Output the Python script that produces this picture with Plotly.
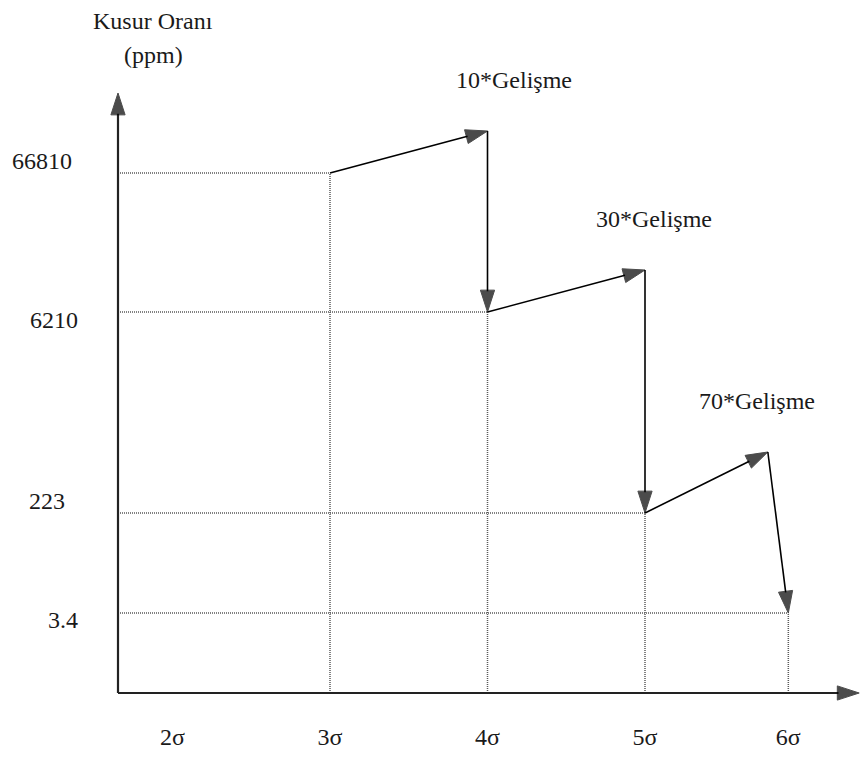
import plotly.graph_objects as go

# ---- data (schematic chart) ----
sigma_labels = ["2σ", "3σ", "4σ", "5σ", "6σ"]
sigma_pos = [2, 3, 4, 5, 5.91]            # horizontal position of each sigma level

ppm_labels = ["66810", "6210", "223", "3.4"]   # defect rate (ppm) at 3σ..6σ
ppm_pos = [5.20, 3.81, 1.80, 0.80]            # schematic vertical position of each level

gain_labels = ["10*Gelişme", "30*Gelişme", "70*Gelişme"]
peak_x = [4.0, 5.0, 5.78]
peak_y = [5.62, 4.23, 2.41]

FONT = "Liberation Serif"
FS = 24
TXT = "#1a1a1a"

# axis geometry (layout)
x0 = 1.654       # origin of drawn axes
x_end = 6.36
y_end = 6.0

fig = go.Figure()

# dotted guide lines
lvl_sigma = sigma_pos[1:]
for sx, py in zip(lvl_sigma, ppm_pos):
    fig.add_trace(go.Scatter(x=[x0, sx], y=[py, py], mode="lines",
                             line=dict(color="#5a5a5a", width=1.5, dash="1px,1px"),
                             hoverinfo="skip"))
    fig.add_trace(go.Scatter(x=[sx, sx], y=[0, py], mode="lines",
                             line=dict(color="#5a5a5a", width=1.5, dash="1px,1px"),
                             hoverinfo="skip"))

# improvement path with arrowheads
px = [lvl_sigma[0]]
py_ = [ppm_pos[0]]
for i in range(3):
    px += [peak_x[i], lvl_sigma[i + 1]]
    py_ += [peak_y[i], ppm_pos[i + 1]]
sizes = [0] + [23] * (len(px) - 1)
fig.add_trace(go.Scatter(x=px, y=py_, mode="lines+markers",
                         line=dict(color="#000000", width=1.6),
                         marker=dict(symbol="arrow", angleref="previous", size=sizes,
                                     color="#000000", line=dict(width=1, color="#000000")),
                         cliponaxis=False, hoverinfo="skip"))

# axes with arrowheads
fig.add_trace(go.Scatter(x=[x0, x_end], y=[0, 0], mode="lines+markers",
                         line=dict(color="#222222", width=2.2),
                         marker=dict(symbol="arrow", angleref="previous", size=[0, 23],
                                     color="#000000", line=dict(width=1, color="#000000")),
                         cliponaxis=False, hoverinfo="skip"))
fig.add_trace(go.Scatter(x=[x0, x0], y=[0, y_end], mode="lines+markers",
                         line=dict(color="#222222", width=2.2),
                         marker=dict(symbol="arrow", angleref="previous", size=[0, 23],
                                     color="#000000", line=dict(width=1, color="#000000")),
                         cliponaxis=False, hoverinfo="skip"))

# y level labels
lab_cx = [42, 54, 47, 63]
lab_shift = [12, -8, 12, -7]
for t, py, cx, sh in zip(ppm_labels, ppm_pos, lab_cx, lab_shift):
    fig.add_annotation(text=t, x=(cx - 100) / 760, xref="paper", y=py, yref="y",
                       yshift=sh, showarrow=False, xanchor="center", yanchor="middle",
                       font=dict(family=FONT, size=FS, color=TXT))

# improvement labels
gx_shift = [26, 9, -11]
for t, gx, gy, sh in zip(gain_labels, peak_x, peak_y, gx_shift):
    fig.add_annotation(text=t, x=gx, y=gy, xshift=sh, yshift=51, showarrow=False,
                       xanchor="center", yanchor="middle",
                       font=dict(family=FONT, size=FS, color=TXT))

# y axis title
fig.add_annotation(text="Kusur Oranı", x=x0, y=y_end, xshift=35, yshift=72,
                   showarrow=False, xanchor="center", yanchor="middle",
                   font=dict(family=FONT, size=FS, color=TXT))
fig.add_annotation(text="(ppm)", x=x0, y=y_end, xshift=35, yshift=38,
                   showarrow=False, xanchor="center", yanchor="middle",
                   font=dict(family=FONT, size=FS, color=TXT))

fig.update_layout(
    width=852, height=744,
    margin=dict(l=92, r=0, t=75, b=49),
    paper_bgcolor="white", plot_bgcolor="white",
    showlegend=False,
    xaxis=dict(range=[1.5397, 6.3651], showgrid=False, zeroline=False, showline=False,
               tickvals=sigma_pos, ticktext=sigma_labels, ticks="",
               ticklabelstandoff=17, tickfont=dict(family=FONT, size=FS, color=TXT)),
    yaxis=dict(range=[-0.1, 6.1], showgrid=False, zeroline=False, showline=False,
               showticklabels=False, ticks=""),
)

fig.write_html("out.html")
